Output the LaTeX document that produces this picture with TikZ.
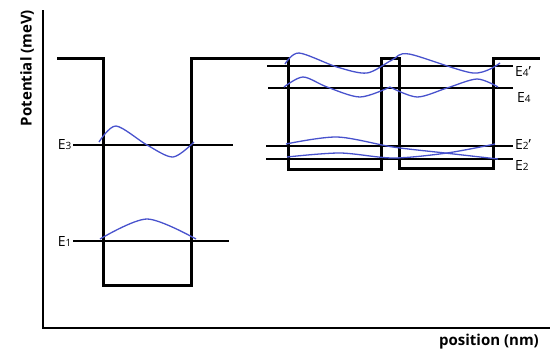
\documentclass[tikz,border=0pt]{standalone}
\usepackage{fontspec}
\setmainfont{Open Sans}
\usetikzlibrary{positioning}
\definecolor{wavefn}{RGB}{72,82,205}
\tikzset{well/.style={line width=3pt,line join=miter},level/.style={line width=1.1pt},
 wave/.style={wavefn,line width=1.3pt},axisline/.style={line width=1.9pt},
 every node/.style={font=\fontsize{14}{16}\selectfont,inner sep=1pt},
 axislabel/.style={font=\fontsize{15}{18}\selectfont\bfseries}}
\newcommand{\lvl}[2]{E{\fontsize{10}{11}\selectfont #1}#2}
\begin{document}
\begin{tikzpicture}[x=1pt,y=-1pt]
\useasboundingbox (0,0) rectangle (556,354);
\draw[axisline] (43,10)--(43,328)--(550,328);
\node[axislabel,rotate=90] (ylab) at (27,68) {Potential (meV)};
\node[axislabel] (xlab) at (489,342) {position (nm)};
\draw[well] (57,58)-|(103,285)-|(191,58)-|(288,169)-|(381,58)-|(399,168)-|(493,58)--(540,58);
\draw[level] (73,241) node[left] (e1) {\lvl{1}{}} -- (229,241);
\draw[level] (73,145) node[left] (e3) {\lvl{3}{}} -- (233,145);
\draw[level] (267,66)--(513,66);
\draw[level] (268,88)--(513,88);
\draw[level] (266,146)--(513,146);
\draw[level] (266,159)--(513,159);
\node[anchor=west] (e4p) at (514,71) {\lvl{4}{'}};
\node[anchor=west] (e4) at (516,97) {\lvl{4}{}};
\node[anchor=west] (e2p) at (514,144) {\lvl{2}{'}};
\node[anchor=west] (e2) at (514,165) {\lvl{2}{}};
\draw[wave] plot[smooth] coordinates {(100,239) (147,219) (196,239)};
\draw[wave] plot[smooth] coordinates {(99,142) (116,126) (147,145) (173,157) (194,142)};
\draw[wave] plot[smooth] coordinates {(285,64) (299,53) (337,67) (367,73) (392,60) (409,54) (473,73) (500,63)};
\draw[wave] plot[smooth] coordinates {(284,87) (303,77) (327,87) (360,97) (390,87)};
\draw[wave] plot[smooth] coordinates {(390,87) (417,97) (447,88) (477,79) (498,87)};
\draw[wave] plot[smooth] coordinates {(286,144) (337,137) (393,147) (445,153) (498,159)};
\draw[wave] plot[smooth] coordinates {(287,157) (340,153) (393,158) (447,153) (495,144)};
\end{tikzpicture}
\end{document}
